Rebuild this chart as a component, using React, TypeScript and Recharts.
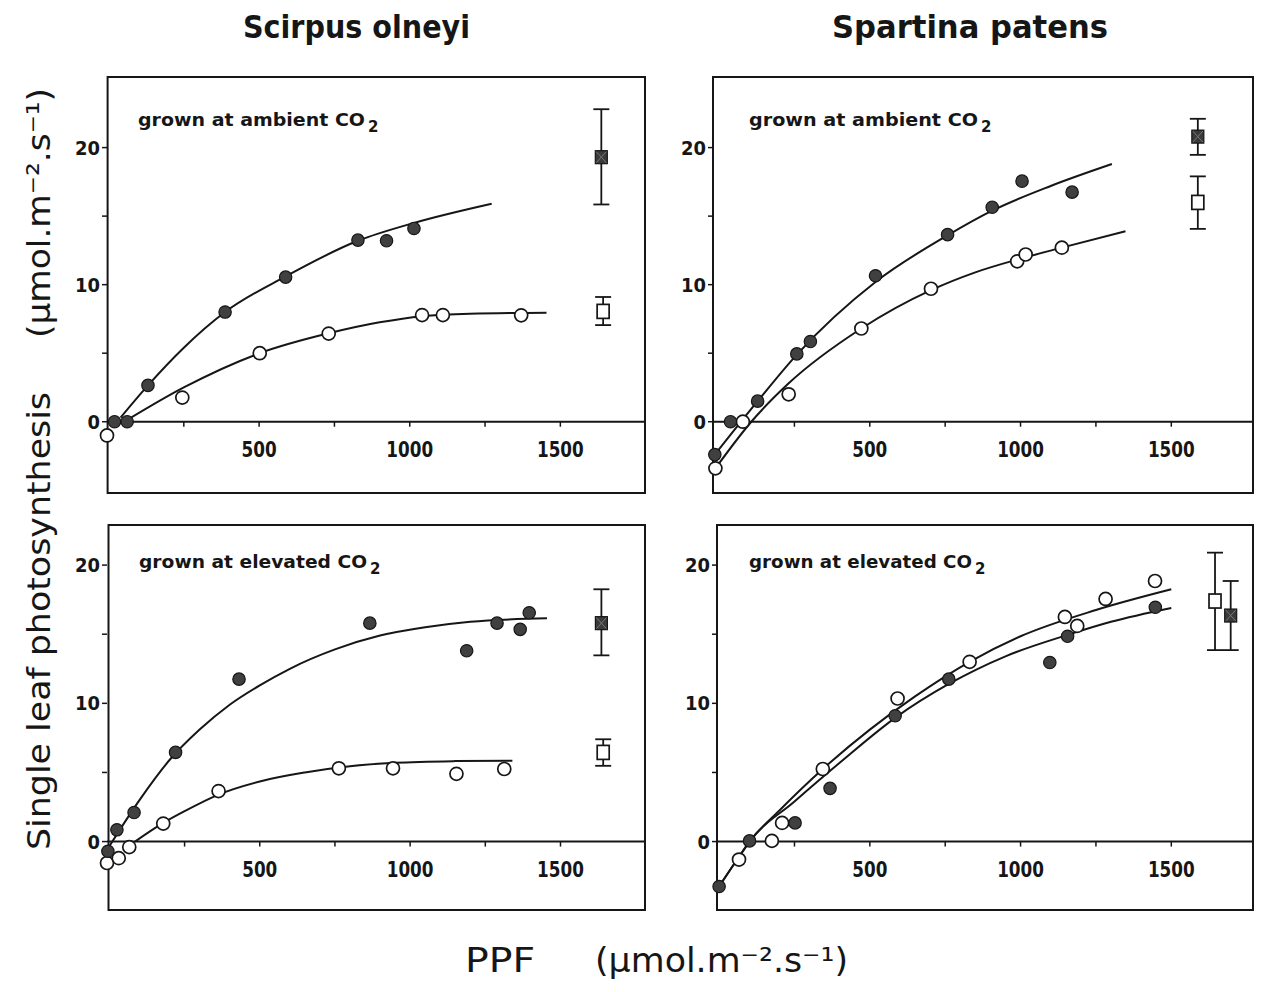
import React from 'react';
import { ComposedChart, Line, Scatter, XAxis, YAxis, ReferenceLine, ReferenceArea, ErrorBar } from 'recharts';

// Scirpus olneyi, grown at ambient CO2
const scirpusAmbientFilled = [
  { x: 20, y: 0 }, { x: 62, y: 0 }, { x: 131, y: 2.65 }, { x: 387, y: 8.0 }, { x: 588, y: 10.55 },
  { x: 828, y: 13.25 }, { x: 923, y: 13.2 }, { x: 1014, y: 14.1 },
];
const scirpusAmbientOpen = [
  { x: -5, y: -1.0 }, { x: 245, y: 1.76 }, { x: 502, y: 5.0 }, { x: 731, y: 6.43 },
  { x: 1041, y: 7.78 }, { x: 1110, y: 7.78 }, { x: 1370, y: 7.76 },
];
const scirpusAmbientFilledFit = [
  { x: 40, y: 0.3 }, { x: 131, y: 2.65 }, { x: 250, y: 5.4 }, { x: 387, y: 8.0 }, { x: 588, y: 10.6 },
  { x: 828, y: 13.2 }, { x: 1014, y: 14.5 }, { x: 1272, y: 15.9 },
];
const scirpusAmbientOpenFit = [
  { x: 60, y: 0.1 }, { x: 250, y: 2.5 }, { x: 502, y: 5.0 }, { x: 731, y: 6.45 }, { x: 900, y: 7.25 },
  { x: 1041, y: 7.7 }, { x: 1200, y: 7.88 }, { x: 1454, y: 7.95 },
];
const scirpusAmbientFilledMean = [{ x: 1636, y: 19.3, err: [3.45, 3.5] }];
const scirpusAmbientOpenMean = [{ x: 1642, y: 8.05, err: [1.0, 1.05] }];

// Spartina patens, grown at ambient CO2
const spartinaAmbientFilled = [
  { x: -14, y: -2.4 }, { x: 38, y: 0 }, { x: 128, y: 1.5 }, { x: 258, y: 4.95 }, { x: 303, y: 5.85 },
  { x: 519, y: 10.65 }, { x: 758, y: 13.65 }, { x: 906, y: 15.65 }, { x: 1005, y: 17.55 }, { x: 1171, y: 16.75 },
];
const spartinaAmbientOpen = [
  { x: -12, y: -3.4 }, { x: 79, y: 0 }, { x: 231, y: 2.0 }, { x: 472, y: 6.8 }, { x: 703, y: 9.7 },
  { x: 989, y: 11.7 }, { x: 1017, y: 12.2 }, { x: 1137, y: 12.7 },
];
const spartinaAmbientFilledFit = [
  { x: -14, y: -2.4 }, { x: 128, y: 1.5 }, { x: 258, y: 4.9 }, { x: 519, y: 10.2 }, { x: 758, y: 13.6 },
  { x: 906, y: 15.4 }, { x: 1100, y: 17.2 }, { x: 1303, y: 18.8 },
];
const spartinaAmbientOpenFit = [
  { x: -12, y: -3.4 }, { x: 107, y: 0 }, { x: 231, y: 2.8 }, { x: 472, y: 6.8 }, { x: 703, y: 9.6 },
  { x: 850, y: 10.9 }, { x: 1000, y: 11.9 }, { x: 1137, y: 12.7 }, { x: 1348, y: 13.9 },
];
const spartinaAmbientFilledMean = [{ x: 1588, y: 20.8, err: [1.33, 1.3] }];
const spartinaAmbientOpenMean = [{ x: 1588, y: 16.0, err: [1.93, 1.9] }];

// Scirpus olneyi, grown at elevated CO2
const scirpusElevatedFilled = [
  { x: -5, y: -0.7 }, { x: 25, y: 0.85 }, { x: 82, y: 2.1 }, { x: 220, y: 6.45 }, { x: 431, y: 11.75 },
  { x: 866, y: 15.8 }, { x: 1188, y: 13.8 }, { x: 1289, y: 15.8 }, { x: 1366, y: 15.35 }, { x: 1396, y: 16.55 },
];
const scirpusElevatedOpen = [
  { x: -8, y: -1.55 }, { x: 31, y: -1.2 }, { x: 66, y: -0.4 }, { x: 179, y: 1.3 }, { x: 363, y: 3.65 },
  { x: 763, y: 5.3 }, { x: 943, y: 5.3 }, { x: 1154, y: 4.9 }, { x: 1313, y: 5.25 },
];
const scirpusElevatedFilledFit = [
  { x: -5, y: -0.5 }, { x: 100, y: 3.0 }, { x: 200, y: 5.9 }, { x: 300, y: 8.1 }, { x: 400, y: 9.9 },
  { x: 500, y: 11.3 }, { x: 600, y: 12.5 }, { x: 750, y: 13.9 }, { x: 900, y: 14.9 }, { x: 1050, y: 15.5 },
  { x: 1200, y: 15.9 }, { x: 1455, y: 16.15 },
];
const scirpusElevatedOpenFit = [
  { x: 85, y: 0 }, { x: 179, y: 1.35 }, { x: 250, y: 2.2 }, { x: 363, y: 3.4 }, { x: 500, y: 4.35 },
  { x: 650, y: 5.0 }, { x: 800, y: 5.45 }, { x: 950, y: 5.7 }, { x: 1150, y: 5.82 }, { x: 1340, y: 5.85 },
];
const scirpusElevatedFilledMean = [{ x: 1636, y: 15.8, err: [2.33, 2.45] }];
const scirpusElevatedOpenMean = [{ x: 1642, y: 6.45, err: [0.97, 0.95] }];

// Spartina patens, grown at elevated CO2
const spartinaElevatedFilled = [
  { x: 0, y: -3.25 }, { x: 101, y: 0.05 }, { x: 252, y: 1.35 }, { x: 368, y: 3.85 }, { x: 584, y: 9.1 },
  { x: 762, y: 11.75 }, { x: 1097, y: 12.95 }, { x: 1156, y: 14.85 }, { x: 1447, y: 16.95 },
];
const spartinaElevatedOpen = [
  { x: 66, y: -1.3 }, { x: 175, y: 0.05 }, { x: 209, y: 1.35 }, { x: 344, y: 5.25 }, { x: 592, y: 10.35 },
  { x: 831, y: 13.0 }, { x: 1147, y: 16.25 }, { x: 1188, y: 15.6 }, { x: 1282, y: 17.55 }, { x: 1446, y: 18.85 },
];
const spartinaElevatedOpenFit = [
  { x: 0, y: -3.25 }, { x: 66, y: -1.1 }, { x: 101, y: 0 }, { x: 200, y: 2.25 }, { x: 344, y: 5.25 },
  { x: 500, y: 8.1 }, { x: 650, y: 10.5 }, { x: 831, y: 13.0 }, { x: 1000, y: 14.85 }, { x: 1250, y: 16.75 },
  { x: 1500, y: 18.25 },
];
const spartinaElevatedFilledFit = [
  { x: 0, y: -3.25 }, { x: 66, y: -1.1 }, { x: 101, y: 0 }, { x: 250, y: 2.9 }, { x: 400, y: 5.7 },
  { x: 584, y: 8.95 }, { x: 762, y: 11.4 }, { x: 950, y: 13.4 }, { x: 1156, y: 14.95 }, { x: 1300, y: 15.9 },
  { x: 1500, y: 16.9 },
];
const spartinaElevatedOpenMean = [{ x: 1645, y: 17.4, err: [3.55, 3.5] }];
const spartinaElevatedFilledMean = [{ x: 1697, y: 16.35, err: [2.5, 2.5] }];

const xTicks = [250, 500, 750, 1000, 1250, 1500];
const xTickLabels = [500, 1000, 1500];
const yTicks = [0, 5, 10, 15, 20];

const INK = '#161616';
const BOLD = "'DejaVu Sans Condensed', 'Liberation Sans Narrow', 'DejaVu Sans', sans-serif";
const SANS = "'DejaVu Sans', 'Liberation Sans', sans-serif";

type Pt = { x: number; y: number };
type Mean = { x: number; y: number; err: number[] };

const filledDot = (p: any) => (
  <circle cx={p.cx} cy={p.cy} r={6.2} fill="#404040" stroke={INK} strokeWidth={1.2} />
);
const openDot = (p: any) => (
  <circle cx={p.cx} cy={p.cy} r={6.5} fill="#fff" stroke={INK} strokeWidth={1.7} />
);
const filledSquare = (p: any) => (
  <g>
    <rect x={p.cx - 6} y={p.cy - 6.5} width={12} height={13} fill="#3a3a3a" stroke={INK} strokeWidth={1.2} />
    <path d={`M${p.cx - 5},${p.cy - 5.5}L${p.cx + 5},${p.cy + 5.5}M${p.cx + 5},${p.cy - 5.5}L${p.cx - 5},${p.cy + 5.5}`} stroke="#777" strokeWidth={1} />
  </g>
);
const openSquare = (p: any) => (
  <rect x={p.cx - 6} y={p.cy - 7} width={12} height={14} fill="#fff" stroke={INK} strokeWidth={1.7} />
);

const YTick = ({ x, y, payload }: any) =>
  payload.value % 10 === 0 ? (
    <text x={x} y={y} dy={7} textAnchor="end" fontFamily={BOLD} fontWeight="bold" fontSize={20} fill={INK}
      textLength={String(payload.value).length * 12.5} lengthAdjust="spacingAndGlyphs">
      {payload.value}
    </text>
  ) : <g />;

interface PanelProps {
  box: { left: number; top: number; width: number; height: number };
  xDomain: [number, number];
  yDomain: [number, number];
  fits: Pt[][];
  filled: Pt[];
  open: Pt[];
  filledMean: Mean[];
  openMean: Mean[];
}

const AXIS_W = 50;

const Panel = ({ box, xDomain, yDomain, fits, filled, open, filledMean, openMean }: PanelProps) => {
  const unitsPerPx = (yDomain[1] - yDomain[0]) / box.height;
  const drop = 5 * unitsPerPx;
  return (
    <div style={{ position: 'absolute', left: box.left - AXIS_W, top: box.top - 2 }}>
      <ComposedChart width={box.width + AXIS_W + 2} height={box.height + 4} margin={{ top: 2, right: 2, bottom: 2, left: 0 }}>
        <XAxis type="number" dataKey="x" domain={xDomain} hide />
        <YAxis type="number" dataKey="y" domain={yDomain} ticks={yTicks} width={AXIS_W} interval={0}
          axisLine={false} tickLine={{ stroke: INK, strokeWidth: 1.5 }} tickSize={5} tick={<YTick />} />
        <ReferenceArea x1={xDomain[0]} x2={xDomain[1]} y1={yDomain[0]} y2={yDomain[1]} fill="none" stroke={INK} strokeWidth={2} />
        <ReferenceLine y={0} stroke={INK} strokeWidth={2} />
        {xTicks.map((t) => (
          <ReferenceLine key={`t${t}`} segment={[{ x: t, y: 0 }, { x: t, y: -drop }]} stroke={INK} strokeWidth={1.5} />
        ))}
        {xTickLabels.map((t) => (
          <ReferenceLine key={`l${t}`} segment={[{ x: t, y: 0 }, { x: t, y: -drop }]} stroke="none"
            label={({ viewBox }: any) => (
              <text x={viewBox.x + viewBox.width / 2} y={viewBox.y + viewBox.height + 30} textAnchor="middle"
                fontFamily={BOLD} fontWeight="bold" fontSize={22} fill={INK}
                textLength={String(t).length * 11.7} lengthAdjust="spacingAndGlyphs">
                {t}
              </text>
            )} />
        ))}
        {fits.map((f, i) => (
          <Line key={`f${i}`} data={f} dataKey="y" type="monotone" dot={false} stroke={INK} strokeWidth={2}
            isAnimationActive={false} />
        ))}
        <Scatter data={open} dataKey="y" shape={openDot} isAnimationActive={false} />
        <Scatter data={filled} dataKey="y" shape={filledDot} isAnimationActive={false} />
        <Scatter data={openMean} dataKey="y" shape={openSquare} isAnimationActive={false}>
          <ErrorBar dataKey="err" direction="y" width={8} stroke={INK} strokeWidth={1.8} />
        </Scatter>
        <Scatter data={filledMean} dataKey="y" shape={filledSquare} isAnimationActive={false}>
          <ErrorBar dataKey="err" direction="y" width={8} stroke={INK} strokeWidth={1.8} />
        </Scatter>
      </ComposedChart>
    </div>
  );
};

const Annotation = ({ x, y, text, width }: { x: number; y: number; text: string; width: number }) => (
  <g fontFamily={SANS} fontWeight="bold" fill={INK}>
    <text x={x} y={y} fontSize={18} textLength={width} lengthAdjust="spacingAndGlyphs">{text}</text>
    <text x={x + width + 3} y={y + 6} fontSize={15}>2</text>
  </g>
);

export default function App() {
  return (
    <div style={{ position: 'absolute', left: 0, top: 0, width: 1271, height: 992, background: '#fff', overflow: 'hidden' }}>
      <Panel box={{ left: 107, top: 77, width: 538, height: 416 }} xDomain={[-3, 1781]} yDomain={[-5.2, 25.15]}
        fits={[scirpusAmbientFilledFit, scirpusAmbientOpenFit]} filled={scirpusAmbientFilled} open={scirpusAmbientOpen}
        filledMean={scirpusAmbientFilledMean} openMean={scirpusAmbientOpenMean} />
      <Panel box={{ left: 713, top: 77, width: 540, height: 416 }} xDomain={[-20, 1771]} yDomain={[-5.2, 25.15]}
        fits={[spartinaAmbientFilledFit, spartinaAmbientOpenFit]} filled={spartinaAmbientFilled} open={spartinaAmbientOpen}
        filledMean={spartinaAmbientFilledMean} openMean={spartinaAmbientOpenMean} />
      <Panel box={{ left: 107, top: 525, width: 538, height: 385 }} xDomain={[-3, 1781]} yDomain={[-4.95, 22.9]}
        fits={[scirpusElevatedFilledFit, scirpusElevatedOpenFit]} filled={scirpusElevatedFilled} open={scirpusElevatedOpen}
        filledMean={scirpusElevatedFilledMean} openMean={scirpusElevatedOpenMean} />
      <Panel box={{ left: 717, top: 525, width: 536, height: 385 }} xDomain={[-7, 1771]} yDomain={[-4.95, 22.9]}
        fits={[spartinaElevatedOpenFit, spartinaElevatedFilledFit]} filled={spartinaElevatedFilled} open={spartinaElevatedOpen}
        filledMean={spartinaElevatedFilledMean} openMean={spartinaElevatedOpenMean} />
      <svg width={1271} height={992} style={{ position: 'absolute', left: 0, top: 0, pointerEvents: 'none' }}>
        <g fontFamily={BOLD} fontWeight="bold" fontSize={32} fill={INK}>
          <text x={243} y={38} textLength={227} lengthAdjust="spacingAndGlyphs">Scirpus olneyi</text>
          <text x={832} y={38} textLength={276} lengthAdjust="spacingAndGlyphs">Spartina patens</text>
        </g>
        <Annotation x={138} y={126} text="grown at ambient CO" width={227} />
        <Annotation x={749} y={126} text="grown at ambient CO" width={229} />
        <Annotation x={139} y={568} text="grown at elevated CO" width={228} />
        <Annotation x={749} y={568} text="grown at elevated CO" width={223} />
        <g fontFamily={SANS} fontSize={32} fill={INK}>
          <text x={50} y={850} transform="rotate(-90, 50, 850)" textLength={458} lengthAdjust="spacingAndGlyphs">
            Single leaf photosynthesis
          </text>
          <text x={50} y={338} transform="rotate(-90, 50, 338)" textLength={250} lengthAdjust="spacingAndGlyphs">
            (μmol.m⁻².s⁻¹)
          </text>
          <text x={465} y={972} fontSize={34} textLength={70} lengthAdjust="spacingAndGlyphs">PPF</text>
          <text x={595} y={972} fontSize={34} textLength={253} lengthAdjust="spacingAndGlyphs">(μmol.m⁻².s⁻¹)</text>
        </g>
      </svg>
    </div>
  );
}
